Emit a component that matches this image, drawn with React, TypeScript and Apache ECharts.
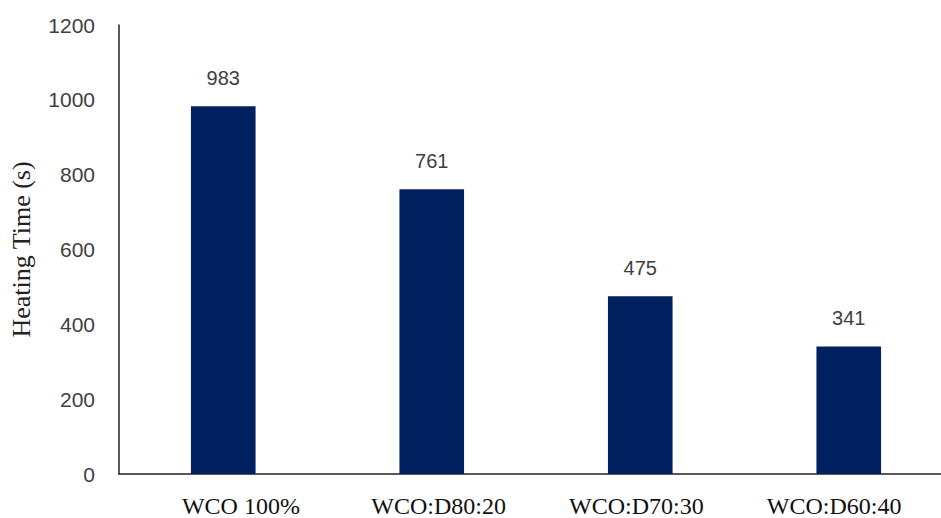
import React, { useEffect, useRef } from "react";
import * as echarts from "echarts";

const categories = ["WCO 100%", "WCO:D80:20", "WCO:D70:30", "WCO:D60:40"];
const heatingTime = [983, 761, 475, 341];
const yTicks = { min: 0, max: 1200, interval: 200 };

export default function App() {
  const ref = useRef<HTMLDivElement>(null);
  useEffect(() => {
    if (!ref.current) return;
    const chart = echarts.init(ref.current, null, { renderer: "svg" });
    chart.setOption({
      animation: false,
      backgroundColor: "#ffffff",
      grid: [
        { left: 117, top: 25, right: 0, height: 449, containLabel: false },
        { left: 142, top: 25, width: 791, height: 449, containLabel: false },
      ],
      xAxis: [
        {
          type: "category",
          gridIndex: 0,
          data: categories,
          axisLine: { show: true, lineStyle: { color: "#222222", width: 1.5 } },
          axisTick: { show: false },
          axisLabel: { show: false },
        },
        {
          type: "category",
          gridIndex: 1,
          data: categories,
          axisLine: { show: false },
          axisTick: { show: false },
          axisLabel: {
            margin: 21,
            fontFamily: "Liberation Serif",
            fontSize: 24,
            color: "#111111",
          },
        },
      ],
      yAxis: [
        {
          type: "value",
          gridIndex: 0,
          min: yTicks.min,
          max: yTicks.max,
          interval: yTicks.interval,
          name: "Heating Time (s)",
          nameLocation: "middle",
          nameGap: 85,
          nameTextStyle: { fontFamily: "Liberation Serif", fontSize: 26, color: "#222222" },
          axisLine: { show: true, lineStyle: { color: "#222222", width: 1.5 } },
          axisTick: { show: false },
          splitLine: { show: false },
          axisLabel: {
            margin: 24,
            fontFamily: "Liberation Sans",
            fontSize: 21,
            color: "#404040",
            formatter: (v: number) => String(v),
          },
        },
        {
          type: "value",
          gridIndex: 1,
          min: yTicks.min,
          max: yTicks.max,
          interval: yTicks.interval,
          show: false,
        },
      ],
      series: [
        {
          type: "bar",
          xAxisIndex: 0,
          yAxisIndex: 0,
          data: heatingTime,
          barWidth: "31%",
          itemStyle: { color: "#002060" },
          label: {
            show: true,
            position: "top",
            distance: 18,
            fontFamily: "Liberation Sans",
            fontSize: 20,
            color: "#404040",
          },
        },
      ],
    });
    return () => chart.dispose();
  }, []);
  return (
    <div
      style={{ position: "absolute", left: 0, top: 0, width: 941, height: 518, overflow: "hidden", background: "#ffffff" }}
    >
      <div ref={ref} style={{ width: 953, height: 518 }} />
    </div>
  );
}
